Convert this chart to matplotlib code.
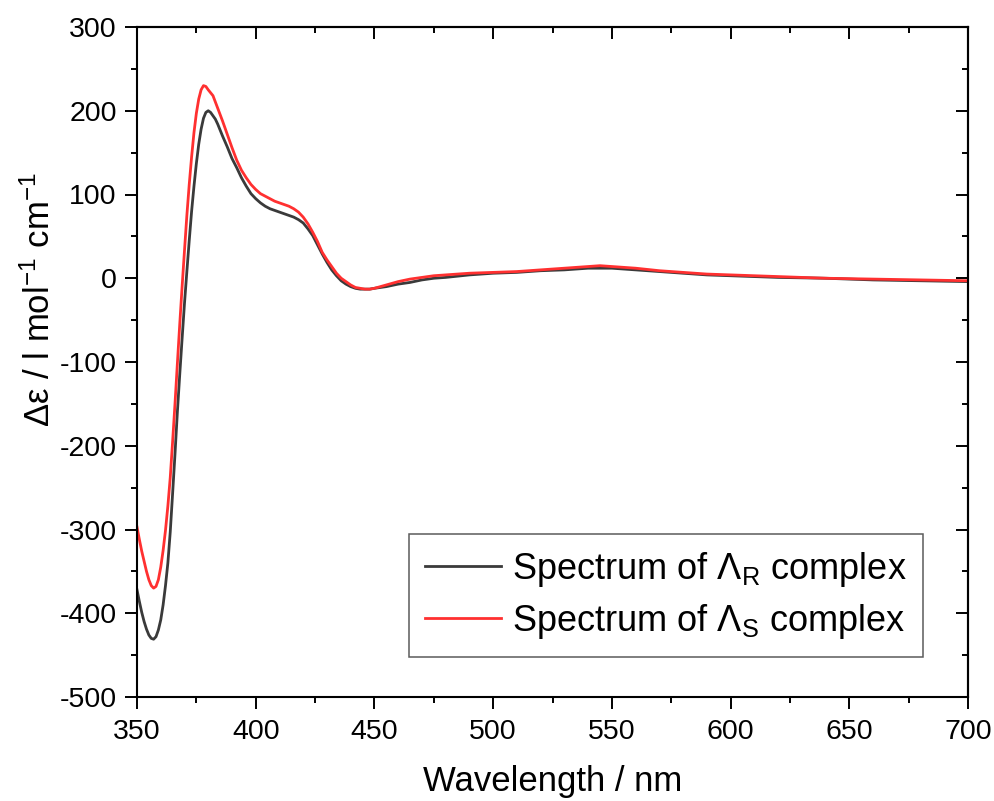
import matplotlib
matplotlib.use("Agg")
import matplotlib.pyplot as plt
from matplotlib.ticker import MultipleLocator

plt.rcParams['font.family'] = ['Liberation Sans', 'DejaVu Sans']
plt.rcParams['mathtext.fontset'] = 'custom'
plt.rcParams['mathtext.rm'] = 'Liberation Sans'
plt.rcParams['mathtext.it'] = 'Liberation Sans:italic'
plt.rcParams['mathtext.bf'] = 'Liberation Sans:bold'
plt.rcParams['axes.unicode_minus'] = False

# Spectrum of Lambda_R complex (dark grey)
wl_R = [350, 351, 352, 353, 354, 355, 356, 357, 358, 359, 360, 361, 362, 363, 364, 365,
        366, 367, 368, 369, 370, 371, 372, 373, 374, 375, 376, 377, 378, 379, 380, 381,
        382, 383, 384, 386, 388, 390, 392, 394, 396, 398, 400, 402, 404, 406, 408, 410,
        412, 414, 416, 418, 420, 422, 424, 426, 428, 430, 432, 434, 436, 438, 440, 442,
        444, 446, 448, 450, 455, 460, 465, 470, 475, 480, 490, 500, 510, 520, 530, 540,
        545, 550, 555, 560, 570, 580, 590, 600, 620, 640, 660, 680, 700]
de_R = [-372, -386, -399, -410, -419, -426, -430, -431, -428, -420, -408, -390, -367, -340, -303, -257,
        -210, -160, -115, -72, -30, 8, 45, 80, 110, 137, 160, 178, 191, 198, 200, 198,
        194, 190, 184, 170, 157, 143, 132, 120, 110, 101, 95, 90, 86, 83, 81, 79,
        77, 75, 73, 70, 66, 59, 51, 40, 29, 19, 10, 3, -3, -7, -10, -12,
        -13, -13, -13, -12, -10, -7, -5, -2, 0, 1, 4, 6, 7, 9, 10, 12,
        12, 12, 11, 10, 8, 6, 4, 3, 1, 0, -2, -3, -4]

# Spectrum of Lambda_S complex (red)
wl_S = [350, 351, 352, 353, 354, 355, 356, 357, 358, 359, 360, 361, 362, 363, 364, 365,
        366, 367, 368, 369, 370, 371, 372, 373, 374, 375, 376, 377, 378, 379, 380, 382,
        384, 386, 388, 390, 392, 394, 396, 398, 400, 402, 404, 406, 408, 410, 412, 414,
        416, 418, 420, 422, 424, 426, 428, 430, 432, 434, 436, 438, 440, 442, 444, 446,
        448, 450, 455, 460, 465, 470, 475, 480, 490, 500, 510, 520, 530, 540, 545, 550,
        555, 560, 570, 580, 590, 600, 620, 640, 660, 680, 700]
de_S = [-297, -312, -326, -338, -350, -360, -367, -370, -368, -360, -345, -325, -301, -272, -238, -195,
        -150, -102, -55, -10, 33, 75, 112, 145, 174, 197, 214, 225, 230, 229, 225, 218,
        203, 188, 172, 156, 141, 129, 120, 112, 106, 101, 98, 95, 92, 90, 88, 86,
        83, 79, 73, 65, 55, 44, 31, 22, 14, 6, 0, -4, -8, -11, -12, -13,
        -13, -12, -8, -4, -1, 1, 3, 4, 6, 7, 8, 10, 12, 14, 15, 14,
        13, 12, 9, 7, 5, 4, 2, 0, -1, -2, -3]

labels = [r'Spectrum of $\Lambda_\mathrm{R}$ complex', r'Spectrum of $\Lambda_\mathrm{S}$ complex']
colors = ['#3a3a3a', '#ff3030']

W, H = 995, 801
fig = plt.figure(figsize=(W / 100, H / 100), dpi=100)
ax = fig.add_axes([137 / W, 1 - 697 / H, (968 - 137) / W, (697 - 27) / H])

ax.plot(wl_R, de_R, color=colors[0], lw=2.0, label=labels[0], solid_joinstyle='round')
ax.plot(wl_S, de_S, color=colors[1], lw=2.0, label=labels[1], solid_joinstyle='round')

ax.set_xlim(350, 700)
ax.set_ylim(-500, 300)
ax.xaxis.set_major_locator(MultipleLocator(50))
ax.xaxis.set_minor_locator(MultipleLocator(25))
ax.yaxis.set_major_locator(MultipleLocator(100))
ax.yaxis.set_minor_locator(MultipleLocator(50))

for s in ax.spines.values():
    s.set_linewidth(1.5)

ax.tick_params(which='major', direction='out', length=8.5, width=1.4, labelsize=20.5)
ax.tick_params(axis='y', which='major', pad=6)
ax.tick_params(axis='x', which='major', pad=7)
ax.tick_params(which='minor', direction='out', length=4.5, width=1.4)

# top/right inward ticks without labels
axt = ax.secondary_xaxis('top')
axt.xaxis.set_major_locator(MultipleLocator(50))
axt.xaxis.set_minor_locator(MultipleLocator(25))
axt.tick_params(which='major', direction='in', length=8.5, width=1.4, labeltop=False)
axt.tick_params(which='minor', direction='in', length=4.5, width=1.4)
axt.spines['top'].set_linewidth(1.5)
axr = ax.secondary_yaxis('right')
axr.yaxis.set_major_locator(MultipleLocator(100))
axr.yaxis.set_minor_locator(MultipleLocator(50))
axr.tick_params(which='major', direction='in', length=8.5, width=1.4, labelright=False)
axr.tick_params(which='minor', direction='in', length=4.5, width=1.4)
axr.spines['right'].set_linewidth(1.5)

ax.set_xlabel('Wavelength / nm', fontsize=25, labelpad=15)
fig.text(40 / W, 1 - 300 / H, r'Δε / l mol$^{\mathrm{-1}}$ cm$^{\mathrm{-1}}$', fontsize=25,
         rotation=90, ha='center', va='center')

leg = ax.legend(loc='lower right', bbox_to_anchor=((923 - 137) / 831, (697 - 657) / 670),
                borderaxespad=0, fontsize=26, frameon=True, fancybox=False,
                edgecolor='#333333', handlelength=2.1, handletextpad=0.3,
                borderpad=0.45, labelspacing=0.35)
leg.get_frame().set_linewidth(1.1)
for h in leg.get_lines():
    h.set_linewidth(2.0)

fig.savefig('out.png', dpi=100)
